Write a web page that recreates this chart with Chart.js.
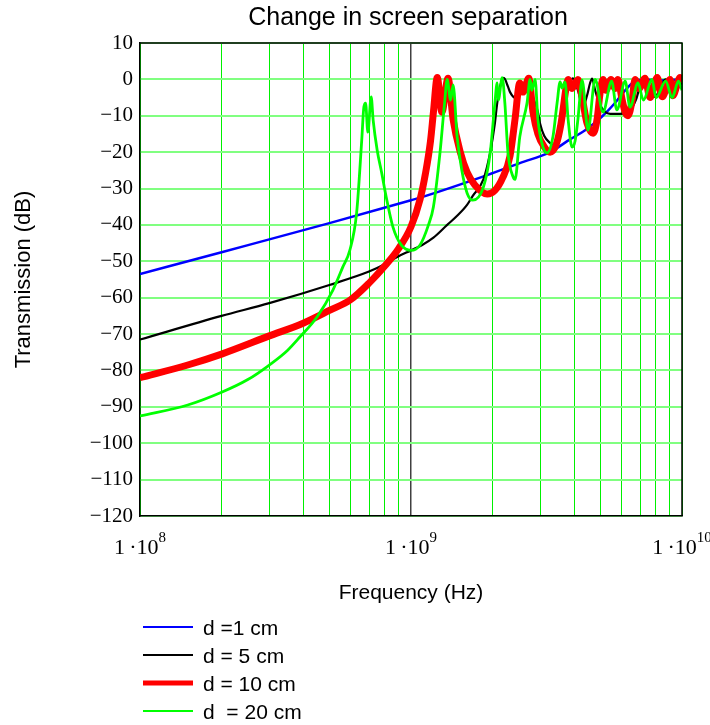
<!DOCTYPE html>
<html>
<head>
<meta charset="utf-8">
<script src="https://cdn.jsdelivr.net/npm/chart.js@4.4.0/dist/chart.umd.min.js"></script>
<style>
  html, body { margin: 0; padding: 0; background: #fff; }
</style>
</head>
<body>
<canvas id="chart" width="710" height="725"></canvas>
<script>
// Values (frequency in Hz, transmission in dB)
const chartTitle = 'Change in screen separation';
const seriesLabels = ['d =1 cm', 'd = 5 cm', 'd = 10 cm', 'd  = 20 cm'];

const freqD1 = [1e8, 2e8, 5e8, 1e9, 1.08e9, 1.91e9, 2.52e9, 3.26e9, 3.86e9, 4.39e9,
  5.07e9, 5.66e9, 6.17e9, 6.71e9, 7.3e9, 8.3e9, 1e10];
const dbD1 = [-53.5, -47.5, -39.5, -33.2, -32.5, -26.3, -23, -20, -16.5, -14,
  -10.2, -6.5, -3, -0.5, 0, -0.3, 0];

const freqD5 = [1e8, 2e8, 3e8, 5e8, 7e8, 8e8, 9e8, 1e9, 1.1e9, 1.21e9,
  1.36e9, 1.48e9, 1.61e9, 1.69e9, 1.85e9, 1.96e9, 2.04e9, 2.08e9, 2.13e9, 2.2e9,
  2.28e9, 2.32e9, 2.42e9, 2.52e9, 2.63e9, 2.72e9, 2.82e9, 2.94e9, 2.99e9, 3.1e9,
  3.26e9, 3.34e9, 3.46e9, 3.58e9, 3.7e9, 3.86e9, 3.96e9, 4.13e9, 4.31e9, 4.46e9,
  4.58e9, 4.66e9, 4.78e9, 4.98e9, 5.43e9, 5.9e9, 6.43e9, 6.77e9, 7.06e9, 7.37e9,
  7.62e9, 7.95e9, 8.36e9, 8.7e9, 9.04e9, 9.42e9, 9.84e9, 1e10];
const dbD5 = [-71.5, -65, -61.5, -56.5, -52.8, -50.8, -48.6, -47, -45.5, -43.5,
  -40, -37.5, -34.5, -32, -27.5, -20, -12, -6.5, -2, 0.4,
  -2, -3.5, -5, -3.5, -1, -1.5, -5, -9, -12, -15.5,
  -17.5, -18, -16.5, -12.5, -6, -1, 0.3, -3, -7.5, -4.5,
  -1, 0.2, -3, -7, -9.5, -9.5, -8.5, -5.5, -1, 0.3,
  -3, -4.8, -2, 0, -2, -3.5, -1.5, -1];

const freqD10 = [1e8, 1.5e8, 2e8, 3e8, 4e8, 5e8, 6e8, 7e8, 8e8, 9e8,
  1e9, 1.08e9, 1.13e9, 1.18e9, 1.21e9, 1.25e9, 1.3e9, 1.37e9, 1.43e9, 1.52e9,
  1.61e9, 1.72e9, 1.91e9, 2.04e9, 2.18e9, 2.32e9, 2.42e9, 2.52e9, 2.59e9, 2.72e9,
  2.82e9, 2.94e9, 3.1e9, 3.26e9, 3.43e9, 3.58e9, 3.76e9, 3.8e9, 3.93e9, 4.13e9,
  4.28e9, 4.46e9, 4.7e9, 4.86e9, 4.98e9, 5.11e9, 5.24e9, 5.47e9, 5.66e9, 5.8e9,
  6.01e9, 6.17e9, 6.32e9, 6.54e9, 6.71e9, 6.95e9, 7.3e9, 7.62e9, 8.1e9, 8.45e9,
  9.04e9, 9.25e9, 9.84e9, 1e10];
const dbD10 = [-82, -78.5, -75.5, -70.5, -67, -63.5, -60.5, -56, -51.3, -46.5,
  -40.5, -33, -26, -17, -9, 0.5, -9, 0.3, -11, -20,
  -25.5, -29, -31.5, -30.5, -27, -21, -11, -1, -3.5, 0.3,
  -9, -15, -18.5, -20, -18, -12, -1, 0, -2.5, 0,
  -5, -12, -14.8, -11, -4, 0, -3, 0, -2.5, 0,
  -5.5, -9, -10, -6, 0, -2.5, 0.3, -5, 0.5, -4.8,
  0, -4.5, 0.5, -1];

const freqD20 = [1e8, 1.5e8, 2e8, 2.5e8, 3e8, 3.5e8, 3.89e8, 4.5e8, 5.15e8, 5.6e8,
  5.95e8, 6.3e8, 6.58e8, 6.7e8, 6.8e8, 6.93e8, 7.13e8, 7.25e8, 7.5e8, 7.8e8,
  8.1e8, 8.58e8, 9.2e8, 1e9, 1.08e9, 1.16e9, 1.21e9, 1.28e9, 1.33e9, 1.36e9,
  1.4e9, 1.43e9, 1.48e9, 1.54e9, 1.61e9, 1.69e9, 1.85e9, 1.96e9, 2.04e9, 2.08e9,
  2.1e9, 2.17e9, 2.22e9, 2.28e9, 2.38e9, 2.42e9, 2.52e9, 2.68e9, 2.75e9, 2.79e9,
  2.87e9, 2.94e9, 3.07e9, 3.18e9, 3.34e9, 3.46e9, 3.55e9, 3.61e9, 3.7e9, 3.8e9,
  3.93e9, 4.03e9, 4.13e9, 4.28e9, 4.5e9, 4.78e9, 5.11e9, 5.5e9, 5.75e9, 6.17e9,
  6.43e9, 6.88e9, 7.2e9, 7.75e9, 8.02e9, 8.7e9, 9.2e9, 9.7e9, 1e10];
const dbD20 = [-92.5, -89.5, -86, -82.5, -78.5, -74.5, -70.8, -65.3, -57.9, -51.6,
  -46.9, -36.7, -16.7, -7.6, -6.5, -14.5, -4.8, -11.2, -19.4, -25.8,
  -32.3, -40.6, -45.5, -47, -45.5, -40, -35, -20, -6.5, 0,
  -5.7, -1.5, -15.8, -25, -31.2, -33.2, -29.6, -20.2, -6.5, -1,
  -5.7, 0.5, -6.5, -20.2, -26.8, -27.5, -15.8, -6.5, 0, -3,
  0, -11, -18.6, -20.2, -15.8, -6.5, -0.7, -2.4, -0.7, -11,
  -18.6, -17, -11, -0.2, -14, 0, -9, -0.5, -8.4, -0.5,
  -7.6, -1, -5.7, 0, -5, -0.5, -5, -0.5, -3];

// Axis ticks
const xGridValues = [1e8, 2e8, 3e8, 4e8, 5e8, 6e8, 7e8, 8e8, 9e8,
  1e9, 2e9, 3e9, 4e9, 5e9, 6e9, 7e9, 8e9, 9e9, 1e10];
const xLabelValues = [1e8, 1e9, 1e10];
const xLabelExponents = [8, 9, 10];
const yTickValues = [10, 0, -10, -20, -30, -40, -50, -60, -70, -80, -90, -100, -110, -120];

// Styles
const seriesColors = ['#0000ff', '#000000', '#ff0000', '#00ff00'];
const plotWidths = [2.5, 2.2, 7, 2.8];
const legendWidths = [2, 2, 5, 2.2];

const toPoints = (fs, ds) => fs.map((f, i) => ({ x: f, y: ds[i] }));
const allFreq = [freqD1, freqD5, freqD10, freqD20];
const allDb = [dbD1, dbD5, dbD10, dbD20];

const datasets = seriesLabels.map((label, i) => ({
  label: label,
  data: toPoints(allFreq[i], allDb[i]),
  borderColor: seriesColors[i],
  backgroundColor: seriesColors[i],
  borderWidth: plotWidths[i],
  pointRadius: 0,
  cubicInterpolationMode: 'monotone',
  order: 4 - i // blue at the bottom, green on top
}));

const serif = '"Liberation Serif", "Times New Roman", serif';
const sans = '"Liberation Sans", Arial, sans-serif';

// Title over the plot, frame edges, x labels with exponents, legend below the axis
const frameAndText = {
  id: 'frameAndText',
  afterDraw(chart) {
    const { ctx, chartArea: a, scales } = chart;
    ctx.save();
    ctx.strokeStyle = '#000';
    ctx.lineWidth = 1.5;
    ctx.beginPath();
    ctx.moveTo(a.left, a.top);
    ctx.lineTo(a.right, a.top);
    ctx.lineTo(a.right, a.bottom);
    ctx.stroke();

    ctx.fillStyle = '#000';
    ctx.textAlign = 'center';
    ctx.textBaseline = 'middle';
    ctx.font = '25px ' + sans;
    ctx.fillText(chartTitle, (a.left + a.right) / 2 - 3, 18);

    ctx.textAlign = 'left';
    ctx.textBaseline = 'alphabetic';
    xLabelValues.forEach((v, i) => {
      const x = scales.x.getPixelForValue(v);
      const mant = '1\u2009\u00b710';
      const exp = String(xLabelExponents[i]);
      ctx.font = '22px ' + serif;
      const mw = ctx.measureText(mant).width;
      ctx.font = '15px ' + serif;
      const ew = ctx.measureText(exp).width;
      const x0 = x - (mw + ew) / 2;
      ctx.font = '22px ' + serif;
      ctx.fillText(mant, x0, a.bottom + 38);
      ctx.font = '15px ' + serif;
      ctx.fillText(exp, x0 + mw, a.bottom + 26);
    });

    ctx.font = '21px ' + sans;
    ctx.textBaseline = 'middle';
    seriesLabels.forEach((label, i) => {
      const y = a.bottom + 111 + i * 28;
      ctx.strokeStyle = seriesColors[i];
      ctx.lineWidth = legendWidths[i];
      ctx.beginPath();
      ctx.moveTo(a.left + 3, y);
      ctx.lineTo(a.left + 53, y);
      ctx.stroke();
      ctx.fillText(label, a.left + 63, y + 2);
    });
    ctx.restore();
  }
};

const ctx = document.getElementById('chart').getContext('2d');
new Chart(ctx, {
  type: 'line',
  data: { datasets: datasets },
  options: {
    responsive: false,
    animation: false,
    layout: { padding: { left: 0, right: 28, top: 43, bottom: 0 } },
    plugins: {
      legend: { display: false },
      tooltip: { enabled: false },
      title: { display: false }
    },
    scales: {
      x: {
        type: 'logarithmic',
        min: 1e8,
        max: 1e10,
        afterBuildTicks: (s) => { s.ticks = xGridValues.map(v => ({ value: v })); },
        afterFit: (s) => { s.height = 209; },
        ticks: { display: false },
        grid: {
          color: (c) => (c.tick && c.tick.value === 1e9 ? '#404040' : '#00f000'),
          lineWidth: (c) => (c.tick && c.tick.value === 1e9 ? 1.5 : 1),
          drawTicks: false
        },
        border: { color: '#000', width: 1.5 },
        title: {
          display: true,
          text: 'Frequency (Hz)',
          color: '#000',
          font: { family: sans, size: 21 },
          padding: { top: 0, bottom: 119 }
        }
      },
      y: {
        min: -120,
        max: 10,
        afterBuildTicks: (s) => { s.ticks = yTickValues.map(v => ({ value: v })); },
        afterFit: (s) => { s.width = 140; },
        ticks: {
          callback: (v) => (v < 0 ? '\u2212' + Math.abs(v) : String(v)),
          color: '#000',
          font: { family: serif, size: 21 },
          padding: 7
        },
        grid: { color: '#80ff80', lineWidth: 2, drawTicks: false },
        border: { color: '#000', width: 1.5 },
        title: {
          display: true,
          text: 'Transmission (dB)',
          color: '#000',
          font: { family: sans, size: 22 },
          padding: { top: 11 }
        }
      }
    }
  },
  plugins: [frameAndText]
});
</script>
</body>
</html>
